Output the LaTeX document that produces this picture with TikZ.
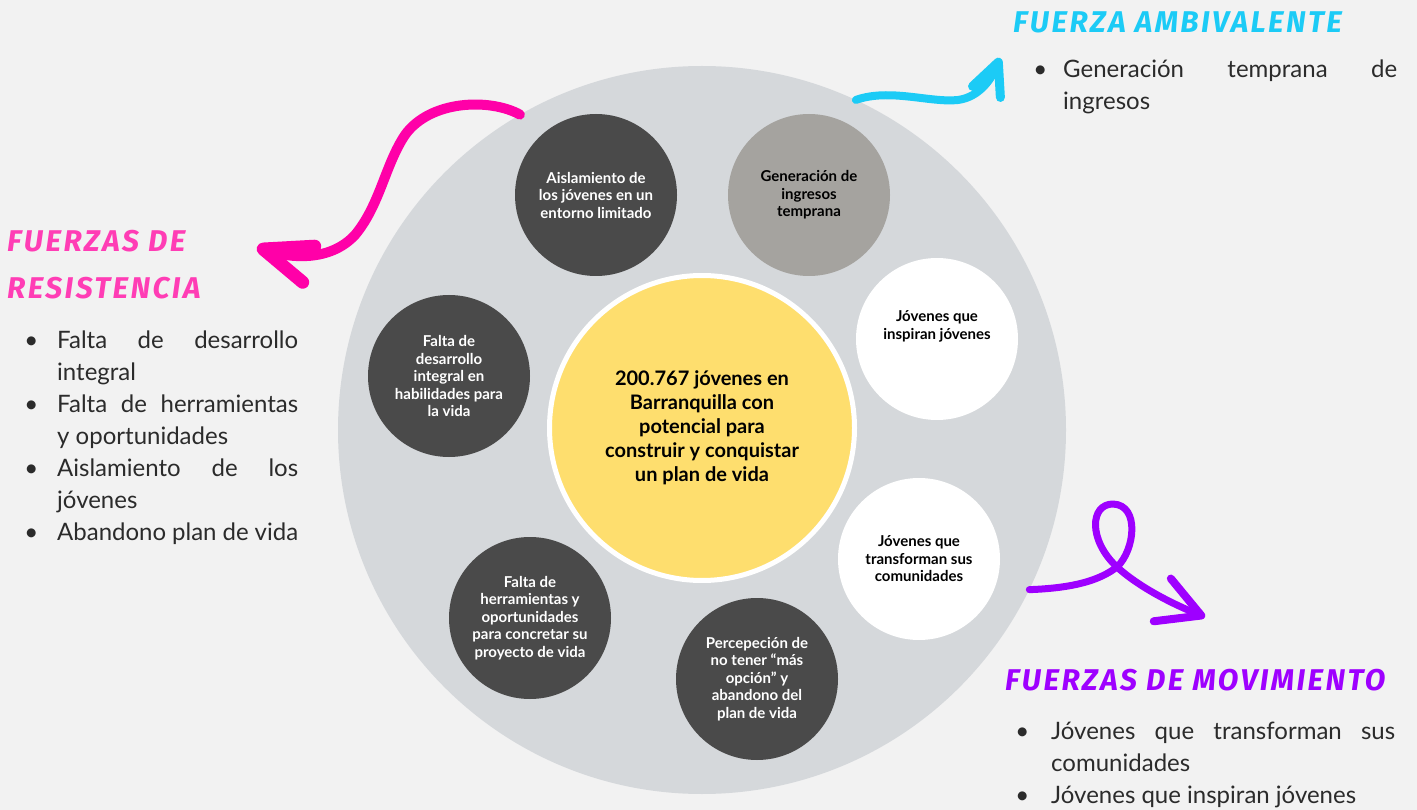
\documentclass[tikz,border=0pt]{standalone}
\usepackage{fontspec}
\usepackage{xcolor}
\usepackage{tikz}
\usepackage{enumitem}
\usetikzlibrary{arrows.meta}
\setmainfont{Lato}
\newfontfamily\handfont[LetterSpace=8]{Fira Sans}
\definecolor{pagegrey}{HTML}{F2F2F2}
\definecolor{ringgrey}{HTML}{D5D8DB}
\definecolor{darkdot}{HTML}{4A4A4A}
\definecolor{stonegrey}{HTML}{A5A39F}
\definecolor{sunyellow}{HTML}{FEDE6E}
\definecolor{inkgrey}{HTML}{2B2B2B}
\definecolor{hotpink}{HTML}{FF00A8}
\definecolor{titlepink}{HTML}{FF3DB5}
\definecolor{skyblue}{HTML}{1CCBF6}
\definecolor{brightviolet}{HTML}{9E00FF}
\setlist[itemize]{label=\textbullet, topsep=0pt, itemsep=0pt, parsep=0pt, partopsep=0pt}
\hyphenpenalty=10000
\exhyphenpenalty=10000

\tikzset{
  bubble/.style={circle, minimum size=162pt, inner sep=0pt, align=center,
    font=\fontsize{15}{17.5}\selectfont\bfseries},
  darkbubble/.style={bubble, fill=darkdot, text=white},
  greybubble/.style={bubble, fill=stonegrey, text=black},
  whitebubble/.style={bubble, fill=white, text=black},
  forcetitle/.style={inner sep=0pt, align=left,
    font=\handfont\fontsize{30}{47}\selectfont\bfseries\itshape},
  forcelist/.style={anchor=north west, inner sep=0pt, align=justify, text=inkgrey,
    font=\fontsize{24}{32}\selectfont},
  squiggle/.style={line cap=round, line join=round}
}

\begin{document}
\begin{tikzpicture}[x=1pt, y=-1pt]
  \useasboundingbox[fill=pagegrey] (0,0) rectangle (1417,810);

  \node[circle, fill=ringgrey, minimum size=728pt, inner sep=0pt] (ring) at (702,430) {};

  \node[circle, fill=sunyellow, draw=white, line width=5pt, minimum size=305pt,
        inner sep=0pt, align=center, font=\fontsize{20}{24}\selectfont\bfseries]
        (core) at (702,428) {200.767 jóvenes en\\Barranquilla con\\potencial para\\construir y conquistar\\un plan de vida};

  \node[darkbubble] (aislamiento) at (596,195) {Aislamiento de\\los jóvenes en un\\entorno limitado};
  \node[greybubble] (ingresos) at (809,195) {Generación de\\ingresos\\temprana};
  \node[whitebubble] (inspiran) at (937,339) {Jóvenes que\\inspiran jóvenes\\[10pt]};
  \node[darkbubble] (desarrollo) at (449,376) {Falta de\\desarrollo\\integral en\\habilidades para\\la vida};
  \node[whitebubble] (transforman) at (919,559) {Jóvenes que\\transforman sus\\comunidades};
  \node[darkbubble] (herramientas) at (530,618) {Falta de\\herramientas y\\oportunidades\\para concretar su\\proyecto de vida};
  \node[darkbubble] (percepcion) at (757,679) {Percepeción de\\no tener “más\\opción” y\\abandono del\\plan de vida};

  \coordinate (pinktip) at (257,247);
  \coordinate (bluetip) at (1000,58);
  \coordinate (violettip) at (1205,617);

  \draw[squiggle, hotpink, line width=10pt,
        -{Straight Barb[round, length=48pt, width=38pt, line width=13pt]}]
    (ring.120) .. controls (490,98) and (430,100) .. (405,135)
    .. controls (385,165) and (380,205) .. (355,235)
    .. controls (330,262) and (290,258) .. (pinktip);
  \draw[squiggle, skyblue, line width=8pt,
        -{Straight Barb[round, length=32pt, width=30pt, line width=9pt]}]
    (ring.65) .. controls (890,88) and (930,103) .. (958,100)
    .. controls (980,97) and (992,78) .. (bluetip);
  \draw[squiggle, brightviolet, line width=7pt,
        -{Straight Barb[round, length=42pt, width=46pt, line width=8pt]}]
    (ring.-26) .. controls (1075,588) and (1100,580) .. (1117,567)
    .. controls (1135,550) and (1140,505) .. (1113,504)
    .. controls (1090,504) and (1088,540) .. (1117,567)
    .. controls (1140,588) and (1175,605) .. (violettip);

  \node[forcetitle, anchor=base west, text=skyblue] (ambivalente) at (1013,33) {FUERZA AMBIVALENTE};
  \node[forcetitle, anchor=north west, text=titlepink] (resistencia) at (7,230) {FUERZAS DE\\RESISTENCIA};
  \node[forcetitle, anchor=base west, text=brightviolet] (movimiento) at (1005,690) {FUERZAS DE MOVIMIENTO};

  \node[forcelist, text width=367pt] (ambilist) at (1030,45) {%
    \begin{itemize}[leftmargin=33pt, labelsep=16pt]
      \item Generación temprana de\linebreak ingresos
    \end{itemize}};
  \node[forcelist, text width=276pt] (resilist) at (22,316) {%
    \begin{itemize}[leftmargin=35pt, labelsep=19pt]
      \item Falta de desarrollo\linebreak integral
      \item Falta de herramientas\linebreak y oportunidades
      \item Aislamiento de los\linebreak jóvenes
      \item Abandono plan de vida
    \end{itemize}};
  \node[forcelist, text width=382pt] (movilist) at (1013,707) {%
    \begin{itemize}[leftmargin=38pt, labelsep=22pt]
      \item Jóvenes que transforman sus\linebreak comunidades
      \item Jóvenes que inspiran jóvenes
    \end{itemize}};
\end{tikzpicture}
\end{document}
